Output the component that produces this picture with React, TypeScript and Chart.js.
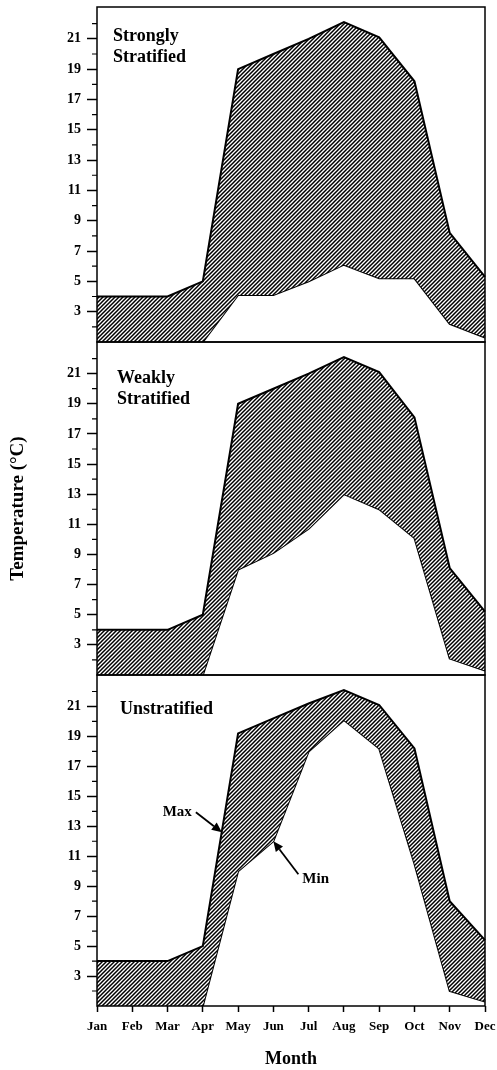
import React, { useEffect, useRef } from 'react';
import { Chart, registerables } from 'chart.js';

Chart.register(...registerables);

const FONT = '"Liberation Serif", "Times New Roman", serif';

const months = ['Jan', 'Feb', 'Mar', 'Apr', 'May', 'Jun', 'Jul', 'Aug', 'Sep', 'Oct', 'Nov', 'Dec'];
const yTickLabels = [3, 5, 7, 9, 11, 13, 15, 17, 19, 21];
const yMinorTicks = [2, 4, 6, 8, 10, 12, 14, 16, 18, 20, 22];
const Y_MIN = 1;
const Y_MAX = 23.1;

const stronglyMax = [4, 4, 4, 5, 19, 20, 21, 22.1, 21.1, 18.2, 8.2, 5.3];
const stronglyMin = [1, 1, 1, 1, 4.1, 4.1, 5, 6.1, 5.2, 5.2, 2.2, 1.3];
const weaklyMax = [4, 4, 4, 5, 19, 20, 21, 22.1, 21.1, 18.1, 8.1, 5.2];
const weaklyMin = [1, 1, 1, 1, 8, 9.1, 10.7, 13, 12, 10.1, 2.1, 1.3];
const unstratMax = [4, 4, 4, 5, 19.2, 20.2, 21.2, 22.1, 21.1, 18.2, 8, 5.4];
const unstratMin = [1, 1, 1, 1, 10, 12, 18, 20.1, 18.2, 10.5, 2, 1.3];

const panelTitles = [['Strongly', 'Stratified'], ['Weakly', 'Stratified'], ['Unstratified']];
const noteTexts = ['Max', 'Min'];
const noteMonths = [3.54, 5];
const noteTemps = [12.6, 12];

const framePlugin = {
  id: 'frame',
  afterDatasetsDraw(chart: any) {
    const { ctx, chartArea: a } = chart;
    const ys = chart.scales.y;
    ctx.save();
    ctx.strokeStyle = '#000';
    ctx.lineWidth = 1.5;
    ctx.strokeRect(a.left, a.top, a.right - a.left, a.bottom - a.top);
    ctx.lineWidth = 1.2;
    ctx.beginPath();
    yMinorTicks.forEach((v) => {
      const y = ys.getPixelForValue(v);
      ctx.moveTo(a.left - 5, y);
      ctx.lineTo(a.left, y);
    });
    ctx.stroke();
    ctx.restore();
  },
};

const titlePlugin = {
  id: 'panelTitle',
  afterDatasetsDraw(chart: any, _args: any, opts: any) {
    if (!opts || !opts.lines) return;
    const { ctx, chartArea: a } = chart;
    ctx.save();
    ctx.fillStyle = '#000';
    ctx.font = `bold 18px ${FONT}`;
    ctx.textAlign = 'left';
    ctx.textBaseline = 'middle';
    opts.lines.forEach((t: string, i: number) => {
      ctx.fillText(t, a.left + opts.dx, a.top + opts.dy + i * 21);
    });
    ctx.restore();
  },
};

const notePlugin = {
  id: 'notes',
  afterDatasetsDraw(chart: any, _args: any, opts: any) {
    if (!opts || !opts.items) return;
    const { ctx } = chart;
    const xs = chart.scales.x;
    const ys = chart.scales.y;
    ctx.save();
    ctx.strokeStyle = '#000';
    ctx.fillStyle = '#000';
    ctx.lineWidth = 1.8;
    ctx.font = `bold 15px ${FONT}`;
    opts.items.forEach((it: any) => {
      const tx = xs.getPixelForValue(it.month);
      const ty = ys.getPixelForValue(it.temp);
      const sx = tx + it.dx;
      const sy = ty + it.dy;
      const ang = Math.atan2(ty - sy, tx - sx);
      const L = 10;
      const W = 4.5;
      const bx = tx - L * Math.cos(ang);
      const by = ty - L * Math.sin(ang);
      ctx.beginPath();
      ctx.moveTo(sx, sy);
      ctx.lineTo(bx, by);
      ctx.stroke();
      ctx.beginPath();
      ctx.moveTo(tx, ty);
      ctx.lineTo(bx + W * Math.sin(ang), by - W * Math.cos(ang));
      ctx.lineTo(bx - W * Math.sin(ang), by + W * Math.cos(ang));
      ctx.closePath();
      ctx.fill();
      ctx.textBaseline = 'middle';
      ctx.textAlign = it.dx < 0 ? 'right' : 'left';
      ctx.fillText(it.text, sx + (it.dx < 0 ? -4 : 4), sy + it.ty);
    });
    ctx.restore();
  },
};

type PanelProps = {
  maxVals: number[];
  minVals: number[];
  title: string[];
  titleDx: number;
  titleDy: number;
  top: number;
  height: number;
  padTop: number;
  padBottom: number;
  showX: boolean;
  showYTitle: boolean;
  notes?: any[];
};

function Panel(p: PanelProps) {
  const ref = useRef<HTMLCanvasElement | null>(null);
  useEffect(() => {
    const canvas = ref.current!;
    const ctx = canvas.getContext('2d')!;
    const s = 4;
    const tile = document.createElement('canvas');
    tile.width = s;
    tile.height = s;
    const g = tile.getContext('2d')!;
    g.fillStyle = '#fff';
    g.fillRect(0, 0, s, s);
    g.strokeStyle = '#000';
    g.lineWidth = 1.5;
    g.beginPath();
    g.moveTo(0, s);
    g.lineTo(s, 0);
    g.moveTo(-1, 1);
    g.lineTo(1, -1);
    g.moveTo(s - 1, s + 1);
    g.lineTo(s + 1, s - 1);
    g.stroke();
    const hatch = ctx.createPattern(tile, 'repeat')!;

    const chart = new Chart(canvas, {
      type: 'line',
      data: {
        labels: months,
        datasets: [
          {
            data: p.maxVals,
            borderColor: '#000',
            borderWidth: 2,
            pointRadius: 0,
            fill: '+1',
            backgroundColor: hatch as any,
            tension: 0,
          },
          {
            data: p.minVals,
            borderColor: '#000',
            borderWidth: 2,
            pointRadius: 0,
            fill: false,
            tension: 0,
          },
        ],
      },
      options: {
        responsive: false,
        animation: false,
        devicePixelRatio: 1,
        layout: { padding: { left: 0, right: 12, top: p.padTop, bottom: p.padBottom } },
        scales: {
          x: {
            type: 'category',
            display: p.showX,
            offset: false,
            afterFit: (sc: any) => {
              if (p.showX) sc.height = 64;
              sc.paddingLeft = 0;
              sc.paddingRight = 0;
            },
            grid: { drawOnChartArea: false, tickLength: 6, tickColor: '#000', tickWidth: 1.5 },
            border: { display: false },
            ticks: {
              autoSkip: false,
              maxRotation: 0,
              padding: 7,
              color: '#000',
              font: { family: FONT, weight: 'bold', size: 13 },
            },
            title: {
              display: p.showX,
              text: 'Month',
              color: '#000',
              font: { family: FONT, weight: 'bold', size: 18 },
              padding: { top: 0, bottom: 0 },
            },
          },
          y: {
            min: Y_MIN,
            max: Y_MAX,
            afterFit: (sc: any) => {
              sc.width = 97;
              sc.paddingTop = 0;
              sc.paddingBottom = 0;
            },
            grid: {
              drawOnChartArea: false,
              tickLength: 10,
              tickWidth: 1.5,
              tickColor: (c: any) =>
                c.tick && yTickLabels.includes(c.tick.value) ? '#000' : 'rgba(0,0,0,0)',
            },
            border: { display: false },
            ticks: {
              stepSize: 1,
              autoSkip: false,
              padding: 6,
              color: '#000',
              font: { family: FONT, weight: 'bold', size: 14 },
              callback: (v: any) => (yTickLabels.includes(v) ? String(v) : ''),
            },
            title: {
              display: p.showYTitle,
              text: 'Temperature (°C)',
              color: '#000',
              font: { family: FONT, weight: 'bold', size: 19 },
              padding: { top: 7, bottom: 0 },
            },
          },
        },
        plugins: {
          legend: { display: false },
          tooltip: { enabled: false },
          panelTitle: { lines: p.title, dx: p.titleDx, dy: p.titleDy },
          notes: { items: p.notes || [] },
        } as any,
      },
      plugins: [framePlugin, titlePlugin, notePlugin],
    });
    return () => chart.destroy();
  }, []);
  return (
    <canvas
      ref={ref}
      width={497}
      height={p.height}
      style={{ position: 'absolute', left: 0, top: p.top, width: 497, height: p.height }}
    />
  );
}

export default function App() {
  useEffect(() => {
    document.body.style.margin = '0';
    document.body.style.background = '#fff';
  }, []);
  const notes = noteTexts.map((t, i) => ({
    text: t,
    month: noteMonths[i],
    temp: noteTemps[i],
    dx: i === 0 ? -26 : 25,
    dy: i === 0 ? -20 : 33,
    ty: i === 0 ? 0 : 5,
  }));
  return (
    <div style={{ position: 'relative', width: 497, height: 1070, background: '#fff', overflow: 'hidden' }}>
      <Panel maxVals={stronglyMax} minVals={stronglyMin} title={panelTitles[0]} titleDx={16} titleDy={29}
        top={0} height={350} padTop={7} padBottom={8} showX={false} showYTitle={false} />
      <Panel maxVals={weaklyMax} minVals={weaklyMin} title={panelTitles[1]} titleDx={20} titleDy={36}
        top={335} height={345} padTop={7} padBottom={5} showX={false} showYTitle={true} />
      <Panel maxVals={unstratMax} minVals={unstratMin} title={panelTitles[2]} titleDx={23} titleDy={34}
        top={668} height={402} padTop={7} padBottom={0} showX={true} showYTitle={false} notes={notes} />
    </div>
  );
}
